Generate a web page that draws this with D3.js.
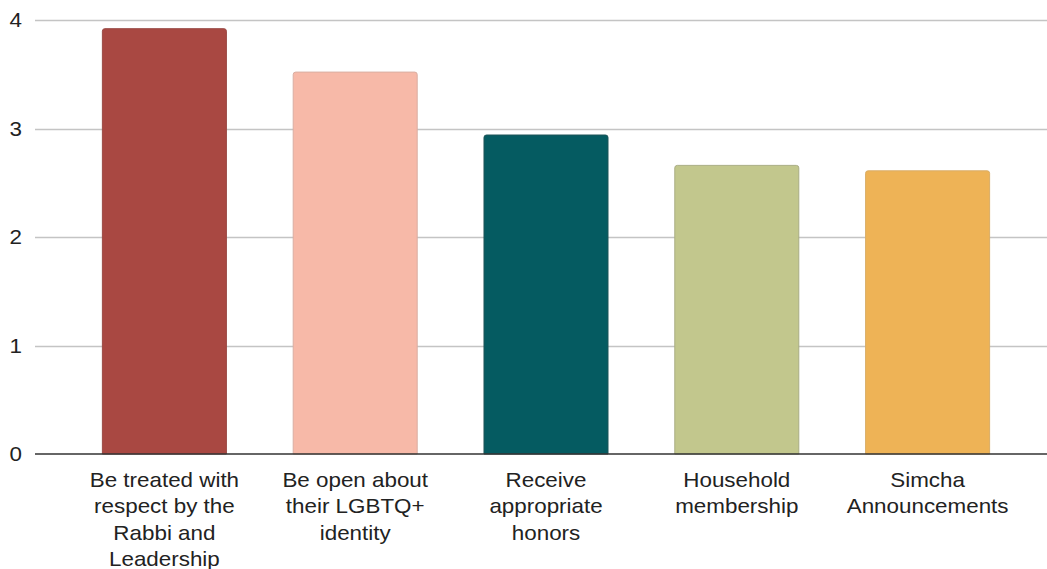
<!DOCTYPE html>
<html>
<head>
<meta charset="utf-8">
<script src="https://cdn.jsdelivr.net/npm/d3@7"></script>
<style>
  html, body { margin: 0; padding: 0; background: #fff; }
  svg { display: block; font-family: "Liberation Sans", Arial, sans-serif; }
</style>
</head>
<body>
<svg id="chart" width="1047" height="569"></svg>
<script>
// Average rating per category
const categories = [
  ["Be treated with", "respect by the", "Rabbi and", "Leadership"],
  ["Be open about", "their LGBTQ+", "identity"],
  ["Receive", "appropriate", "honors"],
  ["Household", "membership"],
  ["Simcha", "Announcements"]
];
const values = [3.92, 3.52, 2.94, 2.66, 2.61];
const barColors = ["#A94842", "#F7B9A8", "#055B61", "#C2C78D", "#EEB356"];
const barStrokes = ["#9a4a45", "#d9aea2", "#1f5558", "#a9ad84", "#d9ad66"];
const yTicks = [0, 1, 2, 3, 4];

const svg = d3.select("#chart");
const gridLeft = 35, gridRight = 1047;
const plotTop = 20, plotBottom = 454;
const textStretch = 1.12;   // slightly wide lettering
const fontSize = 20;

const x = d3.scaleBand()
  .domain(d3.range(values.length))
  .range([69, 1023])
  .paddingInner(0.35)
  .paddingOuter(0.175);

const y = d3.scaleLinear().domain([0, 4]).range([plotBottom, plotTop]);

// Horizontal gridlines
svg.append("g").selectAll("line")
  .data(yTicks.filter(d => d !== 0))
  .join("line")
  .attr("x1", gridLeft).attr("x2", gridRight)
  .attr("y1", d => Math.round(y(d)) + 0.5).attr("y2", d => Math.round(y(d)) + 0.5)
  .attr("stroke", "#c4c4c4").attr("stroke-width", 1.5);

// Y tick labels
svg.append("g").selectAll("text")
  .data(yTicks)
  .join("text")
  .attr("transform", d => `translate(22,${y(d)}) scale(${textStretch},1)`)
  .attr("dy", "0.35em")
  .attr("text-anchor", "end")
  .attr("font-size", fontSize)
  .attr("fill", "#222")
  .text(d => d);

// Bars with slightly rounded top corners
const r = 2.5;
function barPath(x0, w, yTop, yBot) {
  return `M${x0},${yBot}V${yTop + r}Q${x0},${yTop} ${x0 + r},${yTop}` +
         `H${x0 + w - r}Q${x0 + w},${yTop} ${x0 + w},${yTop + r}V${yBot}Z`;
}
svg.append("g").selectAll("path")
  .data(values)
  .join("path")
  .attr("d", (d, i) => barPath(x(i), x.bandwidth(), y(d), y(0)))
  .attr("fill", (d, i) => barColors[i])
  .attr("stroke", (d, i) => barStrokes[i])
  .attr("stroke-width", 1);

// Baseline
svg.append("line")
  .attr("x1", gridLeft).attr("x2", gridRight)
  .attr("y1", y(0)).attr("y2", y(0))
  .attr("stroke", "#333").attr("stroke-width", 1.5);

// Category labels (wrapped)
const lbl = svg.append("g").selectAll("text")
  .data(categories)
  .join("text")
  .attr("text-anchor", "middle")
  .attr("font-size", fontSize)
  .attr("fill", "#222")
  .attr("transform", (d, i) => `translate(${x(i) + x.bandwidth() / 2},487) scale(${textStretch},1)`);
lbl.selectAll("tspan")
  .data(d => d)
  .join("tspan")
  .attr("x", 0)
  .attr("y", (d, j) => j * 26.5)
  .text(d => d);
</script>
</body>
</html>
